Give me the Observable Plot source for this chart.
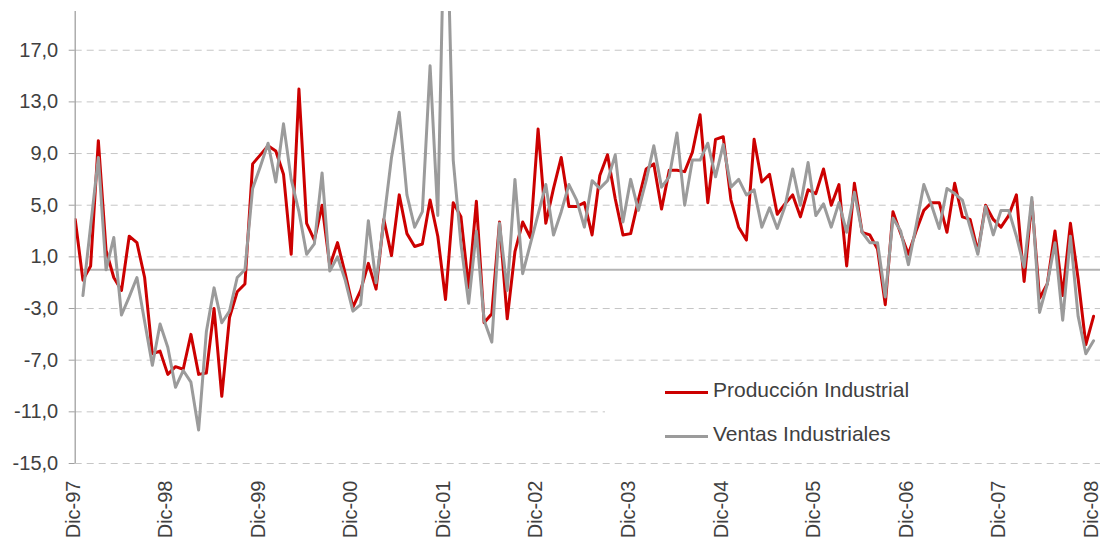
<!DOCTYPE html>
<html>
<head>
<meta charset="utf-8">
<script src="https://cdn.jsdelivr.net/npm/d3@7"></script>
<script src="https://cdn.jsdelivr.net/npm/@observablehq/plot@0.6"></script>
<style>
html, body { margin: 0; padding: 0; background: #fff; overflow: hidden; }
#wrap { position: relative; width: 1102px; height: 541px; font-family: "Liberation Sans", Arial, sans-serif; }
#legend { position: absolute; left: 605px; top: 372px; width: 495px; height: 80px; background: #fff; }
.sw { position: absolute; left: 60px; width: 43px; height: 3px; }
.lt { position: absolute; left: 108px; font-size: 21px; line-height: 24px; color: #404040; white-space: nowrap; }
</style>
</head>
<body>
<div id="wrap">
  <div id="chart"></div>
  <div id="legend"></div>
</div>
<script>
// Series names
const seriesNames = ["Producción Industrial", "Ventas Industriales"];
const seriesColors = ["#cc0000", "#9b9b9b"];

// Producción Industrial: monthly, Dic-97 .. Dic-08 (133 values)
const produccion = [
  3.9,
  -0.8, 0.3, 10.0, 1.5, -0.6, -1.6, 2.6, 2.1, -0.6, -6.5, -6.3, -8.1,
  -7.5, -7.7, -5.0, -8.1, -8.0, -3.0, -9.8, -3.7, -1.7, -1.1, 8.2, 8.9,
  9.6, 9.2, 7.4, 1.2, 14.0, 3.6, 2.3, 5.0, 0.3, 2.1, -0.3, -2.9,
  -1.6, 0.5, -1.5, 3.9, 1.1, 5.8, 2.8, 1.8, 2.0, 5.4, 2.6, -2.3,
  5.2, 4.1, -1.4, 5.3, -4.1, -3.4, 3.7, -3.8, 1.4, 3.7, 2.5, 10.9,
  3.6, 6.3, 8.7, 4.9, 4.9, 5.2, 2.7, 7.3, 8.9, 5.5, 2.7, 2.8,
  5.4, 7.8, 8.2, 4.7, 7.7, 7.7, 7.6, 9.1, 12.0, 5.2, 10.1, 10.3,
  5.4, 3.3, 2.3, 10.1, 6.8, 7.4, 4.3, 5.1, 5.8, 4.1, 6.2, 5.9,
  7.8, 5.0, 6.6, 0.3, 6.7, 2.9, 2.7, 1.6, -2.7, 4.5, 2.8, 1.2,
  3.0, 4.6, 5.2, 5.2, 2.9, 6.7, 4.1, 3.9, 1.4, 5.0, 3.9, 3.3,
  4.2, 5.8, -0.9, 5.3, -2.2, -1.1, 3.0, -2.0, 3.6, -0.7, -5.8, -3.6
];
const produccionStart = 0; // Dic-97

// Ventas Industriales: monthly, Ene-98 .. Dic-08 (132 values)
const ventas = [
  -2.0, 3.4, 8.7, 0.0, 2.5, -3.5, -2.1, -0.6, -4.0, -7.4, -4.2, -6.0,
  -9.1, -7.8, -8.7, -12.4, -4.8, -1.4, -4.1, -3.2, -0.6, 0.0, 6.3, 8.0,
  9.8, 6.8, 11.3, 7.0, 4.5, 1.2, 2.0, 7.5, -0.1, 1.0, -0.8, -3.2,
  -2.7, 3.8, -1.0, 3.8, 8.7, 12.2, 5.8, 3.3, 4.5, 15.8, 4.2, 32.0,
  8.5, 2.0, -2.6, 3.0, -3.9, -5.6, 3.6, -1.6, 7.0, -0.3, 2.0, 4.3,
  6.6, 2.7, 4.5, 6.6, 5.4, 3.3, 6.9, 6.3, 6.9, 8.9, 3.7, 7.0,
  4.6, 6.9, 9.6, 6.4, 7.2, 10.6, 5.0, 8.5, 8.5, 9.8, 7.2, 9.7,
  6.4, 7.0, 5.8, 6.2, 3.3, 4.8, 3.2, 4.9, 7.8, 5.0, 8.3, 4.2,
  5.1, 3.3, 5.2, 2.9, 6.0, 2.9, 2.1, 2.1, -2.1, 4.0, 3.0, 0.4,
  3.4, 6.6, 5.0, 3.2, 6.3, 5.9, 5.4, 3.3, 1.2, 4.9, 2.7, 4.6,
  4.6, 2.6, 0.2, 5.6, -3.3, -1.1, 2.1, -3.9, 2.6, -3.6, -6.5, -5.5
];
const ventasStart = 1; // Ene-98

// Axis labels / ticks
const xTickLabels = ["Dic-97", "Dic-98", "Dic-99", "Dic-00", "Dic-01", "Dic-02",
                     "Dic-03", "Dic-04", "Dic-05", "Dic-06", "Dic-07", "Dic-08"];
const monthsPerLabel = 12;
const yTicks = [-15, -11, -7, -3, 1, 5, 9, 13, 17];
const yDomain = [-15, 20];

// Build tables
const dataProd = produccion.map((v, i) => ({m: produccionStart + i, v, s: seriesNames[0]}));
const dataVent = ventas.map((v, i) => ({m: ventasStart + i, v, s: seriesNames[1]}));
const xLabels = xTickLabels.map((t, i) => ({m: i * monthsPerLabel, t}));

const chart = Plot.plot({
  width: 1102,
  height: 541,
  marginLeft: 74.7,
  marginRight: 2,
  marginTop: 11,
  marginBottom: 78,
  style: {fontFamily: "'Liberation Sans', Arial, sans-serif", fontSize: "20px", color: "#404040", background: "#fff"},
  x: {domain: [0, 132.9], axis: null},
  y: {domain: yDomain, axis: null},
  marks: [
    Plot.ruleY(yTicks, {stroke: "#c6c6c6", strokeWidth: 1, strokeDasharray: "7,5"}),
    Plot.ruleY([0], {stroke: "#b3b3b3", strokeWidth: 2}),
    Plot.lineY(dataProd, {x: "m", y: "v", stroke: seriesColors[0], strokeWidth: 3, clip: true}),
    Plot.lineY(dataVent, {x: "m", y: "v", stroke: seriesColors[1], strokeWidth: 3, clip: true}),
    Plot.ruleX([0], {y1: yDomain[0], y2: yDomain[1], stroke: "#a0a0a0", strokeWidth: 1.3}),
    Plot.axisY(yTicks, {
      tickSize: 6, tickPadding: 11, stroke: "#a0a0a0", fill: "#404040", fontSize: 20, label: null,
      tickFormat: d => d.toFixed(1).replace(".", ",")
    }),
    Plot.text(xLabels, {
      x: "m", text: "t", frameAnchor: "bottom", dy: 17, dx: -2, rotate: -90,
      textAnchor: "end", lineAnchor: "middle", fontSize: 20, fill: "#404040"
    })
  ]
});
document.getElementById("chart").appendChild(chart);

// Legend
const legend = document.getElementById("legend");
const rows = [{sw: 19, tx: 6}, {sw: 63, tx: 50}];
seriesNames.forEach((name, i) => {
  const sw = document.createElement("div");
  sw.className = "sw";
  sw.style.top = rows[i].sw + "px";
  sw.style.background = seriesColors[i];
  legend.appendChild(sw);
  const tx = document.createElement("div");
  tx.className = "lt";
  tx.style.top = rows[i].tx + "px";
  tx.textContent = name;
  legend.appendChild(tx);
});
</script>
</body>
</html>
